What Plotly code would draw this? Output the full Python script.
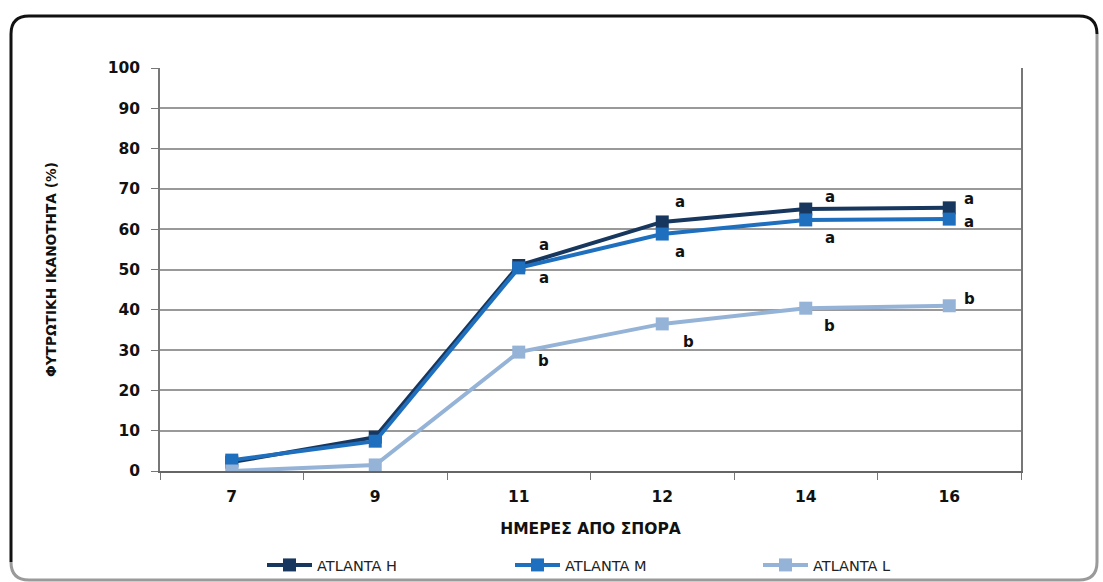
import plotly.graph_objects as go

days = ["7", "9", "11", "12", "14", "16"]
atlanta_h = [2.2, 8.4, 51.0, 61.8, 65.0, 65.3]
atlanta_m = [2.7, 7.4, 50.4, 58.8, 62.3, 62.5]
atlanta_l = [0.0, 1.5, 29.5, 36.5, 40.4, 41.0]

letters_h = ["", "", "a", "a", "a", "a"]
letters_m = ["", "", "a", "a", "a", "a"]
letters_l = ["", "", "b", "b", "b", "b"]

series = [
    ("ATLANTA H", atlanta_h, "#17375E"),
    ("ATLANTA M", atlanta_m, "#1F6FBF"),
    ("ATLANTA L", atlanta_l, "#95B3D7"),
]

fig = go.Figure()
for name, vals, col in series:
    fig.add_trace(go.Scatter(
        x=days, y=vals, name=name, mode="lines+markers",
        line=dict(color=col, width=4),
        marker=dict(symbol="square", size=13, color=col),
    ))

# letter annotations: pixel offsets for categories 11,12,14,16
off_h = [(25, 20), (18, 20), (24, 12), (20, 9)]
off_m = [(25, -10), (18, -18), (24, -18), (20, -3)]
off_l = [(25, -9), (26, -18), (24, -18), (20, 7)]
for letters, vals, offs in [(letters_h, atlanta_h, off_h), (letters_m, atlanta_m, off_m), (letters_l, atlanta_l, off_l)]:
    for i in range(2, 6):
        dx, dy = offs[i - 2]
        fig.add_annotation(x=i, y=vals[i], xref="x", yref="y", text=letters[i], showarrow=False,
                           xshift=dx, yshift=dy,
                           font=dict(family="DejaVu Sans", size=15, color="#111111", weight="bold"))

# Rounded frame in paper coords
L, R, T, B = 160, 1021, 68, 471
pw, ph = R - L, B - T
def px(x):
    return (x - L) / pw
def py(y):
    return (B - y) / ph
fx0, fx1, fy0, fy1 = 11, 1097, 16, 580
r = 18
path = (f"M {px(fx0)},{py(fy1 - r)} L {px(fx0)},{py(fy0 + r)} "
        f"Q {px(fx0)},{py(fy0)} {px(fx0 + r)},{py(fy0)} "
        f"L {px(fx1 - r)},{py(fy0)} Q {px(fx1)},{py(fy0)} {px(fx1)},{py(fy0 + r)}")
path2 = (f"M {px(fx1)},{py(fy0 + r)} L {px(fx1)},{py(fy1 - r)} "
         f"Q {px(fx1)},{py(fy1)} {px(fx1 - r)},{py(fy1)} "
         f"L {px(fx0 + r)},{py(fy1)} Q {px(fx0)},{py(fy1)} {px(fx0)},{py(fy1 - r)}")
fig.add_shape(type="path", path=path, xref="paper", yref="paper",
              line=dict(color="#111111", width=3), layer="below")
fig.add_shape(type="path", path=path2, xref="paper", yref="paper",
              line=dict(color="#9a9a9a", width=3), layer="below")

fig.update_layout(
    width=1103, height=582,
    margin=dict(l=L, r=1103 - R, t=T, b=582 - B, autoexpand=False),
    paper_bgcolor="white", plot_bgcolor="white",
    font=dict(family="DejaVu Sans", color="#111111"),
    showlegend=True,
    legend=dict(orientation="h", x=px(262), xanchor="left", y=py(565), yanchor="middle",
                entrywidth=188, entrywidthmode="pixels",
                font=dict(family="DejaVu Sans", size=14.5, color="#222222"),
                itemwidth=45, bgcolor="rgba(0,0,0,0)"),
    xaxis=dict(
        type="category", tickson="boundaries", ticks="outside", ticklen=7,
        tickcolor="#777777", showgrid=False, showline=True, linecolor="#666666", linewidth=2,
        ticklabelstandoff=10,
        tickfont=dict(family="DejaVu Sans", size=15.5, weight="bold", color="#111111"),
        title=dict(text="ΗΜΕΡΕΣ ΑΠΟ ΣΠΟΡΑ", standoff=19,
                   font=dict(family="DejaVu Sans", size=15.5, weight="bold", color="#111111")),
        range=[-0.5, 5.5], zeroline=False,
    ),
    yaxis=dict(
        range=[0, 100], dtick=10, ticks="outside", ticklen=7, tickcolor="#777777",
        showgrid=True, gridcolor="#999999", gridwidth=1.5,
        showline=True, linecolor="#777777", linewidth=1.5, mirror=True,
        zeroline=False, ticklabelstandoff=8,
        tickfont=dict(family="DejaVu Sans", size=15.5, weight="bold", color="#111111"),
        title=dict(text="ΦΥΤΡΩΤΙΚΗ ΙΚΑΝΟΤΗΤΑ (%)", standoff=48,
                   font=dict(family="DejaVu Sans", size=13.7, weight="bold", color="#111111")),
    ),
)

fig.write_html("out.html", config={"displayModeBar": False},
               post_script="document.body.style.margin='0';document.body.style.overflow='hidden';")
